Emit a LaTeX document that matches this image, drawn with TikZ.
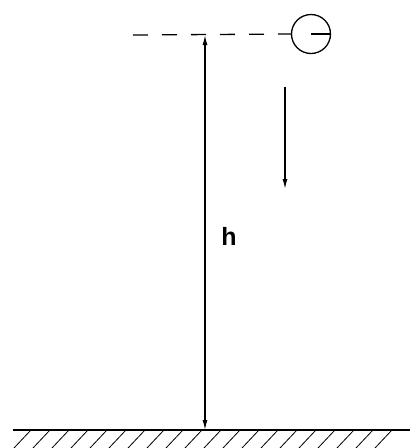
\documentclass[tikz,border=0pt]{standalone}
\usepackage{fontspec}
\setmainfont{Liberation Sans}
\usetikzlibrary{arrows.meta}
\begin{document}
\begin{tikzpicture}[x=1pt,y=-1pt,
  dim/.style={line width=1.3pt,{Latex[length=10pt,width=5pt]}-{Latex[length=10pt,width=5pt]}},
  fall/.style={line width=1.3pt,-{Latex[length=10pt,width=5pt]}},
  hatch/.style={line width=0.8pt}]
\useasboundingbox (0,0) rectangle (410,448);
% dashed reference line
\node[circle,draw,line width=1.3pt,minimum size=39pt,inner sep=0pt] (ball) at (311,34) {};
\coordinate (dl) at (133,35);
\draw[line width=1.3pt,dash pattern=on 15pt off 14pt] (dl) -- (ball.west);
\draw[line width=1.3pt] (ball.center) -- (ball.east);
% height dimension
\coordinate (top) at (205,35);
\coordinate (bot) at (205,430);
\draw[dim] (top) -- (bot);
\node[font=\bfseries\fontsize{25}{25}\selectfont,inner sep=0pt] (h) at (229,236) {h};
% falling arrow
\coordinate (fa) at (285,87);
\coordinate (fb) at (285,189);
\draw[fall] (fa) -- (fb);
% ground
\coordinate (gl) at (13,430);
\coordinate (gr) at (410,430);
\draw[line width=1.3pt] (gl) -- (gr);
\foreach \x in {31,50,...,410} {
  \draw[hatch] (\x,430) -- ++(-17,18);
}
\end{tikzpicture}
\end{document}
